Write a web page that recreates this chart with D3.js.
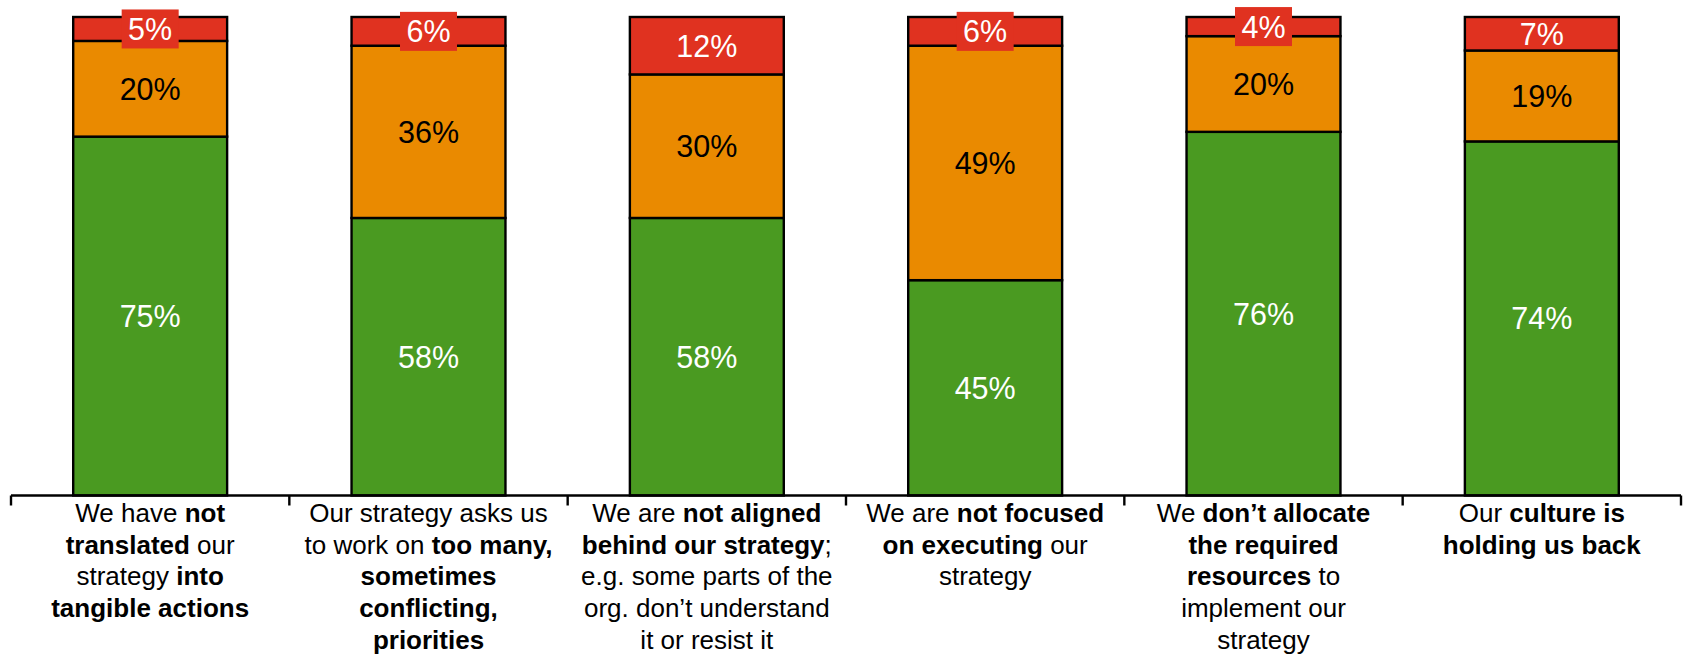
<!DOCTYPE html>
<html>
<head>
<meta charset="utf-8">
<script src="https://cdn.jsdelivr.net/npm/d3@7"></script>
<style>
  html, body { margin: 0; padding: 0; background: #fff; }
  svg { display: block; font-family: "Liberation Sans", Arial, sans-serif; }
</style>
</head>
<body>
<svg id="chart" width="1685" height="654"></svg>
<script>
// Category keys and their multi-line labels; each segment is [text, bold]
const categories = ["translate", "priorities", "aligned", "focused", "resources", "culture"];
const categoryLabels = [
  [[["We have ", false], ["not", true]],
   [["translated", true], [" our", false]],
   [["strategy ", false], ["into", true]],
   [["tangible actions", true]]],
  [[["Our strategy asks us", false]],
   [["to work on ", false], ["too many,", true]],
   [["sometimes", true]],
   [["conflicting,", true]],
   [["priorities", true]]],
  [[["We are ", false], ["not aligned", true]],
   [["behind our strategy", true], [";", false]],
   [["e.g. some parts of the", false]],
   [["org. don\u2019t understand", false]],
   [["it or resist it", false]]],
  [[["We are ", false], ["not focused", true]],
   [["on executing", true], [" our", false]],
   [["strategy", false]]],
  [[["We ", false], ["don\u2019t allocate", true]],
   [["the required", true]],
   [["resources", true], [" to", false]],
   [["implement our", false]],
   [["strategy", false]]],
  [[["Our ", false], ["culture is", true]],
   [["holding us back", true]]]
];

// Series values (percent), stacked bottom to top
const greenValues  = [75, 58, 58, 45, 76, 74];
const orangeValues = [20, 36, 30, 49, 20, 19];
const redValues    = [5, 6, 12, 6, 4, 7];

const seriesKeys = ["green", "orange", "red"];
const seriesColor = { green: "#4a9a21", orange: "#ea8a00", red: "#e03220" };
const seriesText  = { green: "#ffffff", orange: "#000000", red: "#ffffff" };

const table = categories.map((c, i) => ({
  cat: c, green: greenValues[i], orange: orangeValues[i], red: redValues[i]
}));

const svg = d3.select("#chart");
const axisY = 495.5;
const x = d3.scaleBand()
  .domain(categories)
  .range([11, 1681])
  .paddingInner(0.447)
  .paddingOuter(0.2235);
const y = d3.scaleLinear().domain([0, 100]).range([axisY, 17]);

const stack = d3.stack().keys(seriesKeys)(table);

const layers = svg.append("g").selectAll("g")
  .data(stack).join("g")
  .attr("fill", d => seriesColor[d.key]);

layers.selectAll("rect")
  .data(d => d.map(p => ({ p, key: d.key })))
  .join("rect")
  .attr("x", d => x(d.p.data.cat))
  .attr("width", x.bandwidth())
  .attr("y", d => y(d.p[1]))
  .attr("height", d => y(d.p[0]) - y(d.p[1]))
  .attr("stroke", "#000")
  .attr("stroke-width", 2.4);

// Value labels; thin segments get a red plate so the number stays legible
const labelFont = 30.5;
const plateW = 57, plateH = 39;
const labelsG = svg.append("g");
stack.forEach(layer => {
  layer.forEach(p => {
    const v = p[1] - p[0];
    const cx = x(p.data.cat) + x.bandwidth() / 2;
    const cy = (y(p[0]) + y(p[1])) / 2;
    if (y(p[0]) - y(p[1]) < 31) {
      labelsG.append("rect")
        .attr("x", cx - plateW / 2).attr("y", cy - plateH / 2)
        .attr("width", plateW).attr("height", plateH)
        .attr("fill", seriesColor[layer.key]);
    }
    labelsG.append("text")
      .attr("x", cx).attr("y", cy)
      .attr("dy", "0.36em")
      .attr("text-anchor", "middle")
      .attr("font-size", labelFont)
      .attr("fill", seriesText[layer.key])
      .text(v + "%");
  });
});

// Category axis: baseline with ticks at band boundaries
const step = x.step();
const edges = d3.range(categories.length + 1).map(i => x.range()[0] + i * step);
const axisG = svg.append("g");
axisG.append("line")
  .attr("x1", edges[0]).attr("x2", edges[edges.length - 1])
  .attr("y1", axisY).attr("y2", axisY)
  .attr("stroke", "#000").attr("stroke-width", 2.4);
axisG.selectAll("line.tick")
  .data(edges).join("line")
  .attr("class", "tick")
  .attr("x1", d => d).attr("x2", d => d)
  .attr("y1", axisY).attr("y2", axisY + 10)
  .attr("stroke", "#000").attr("stroke-width", 2.4);

// Category labels
const catFont = 26, lineGap = 31.8, firstBaseline = 521.7;
categories.forEach((c, i) => {
  const cx = x(c) + x.bandwidth() / 2;
  const t = svg.append("text")
    .attr("text-anchor", "middle")
    .attr("font-size", catFont)
    .attr("fill", "#000");
  categoryLabels[i].forEach((line, li) => {
    const row = t.append("tspan")
      .attr("x", cx)
      .attr("y", firstBaseline + li * lineGap);
    line.forEach(([txt, bold]) => {
      row.append("tspan")
        .attr("font-weight", bold ? "bold" : "normal")
        .text(txt);
    });
  });
});
</script>
</body>
</html>
